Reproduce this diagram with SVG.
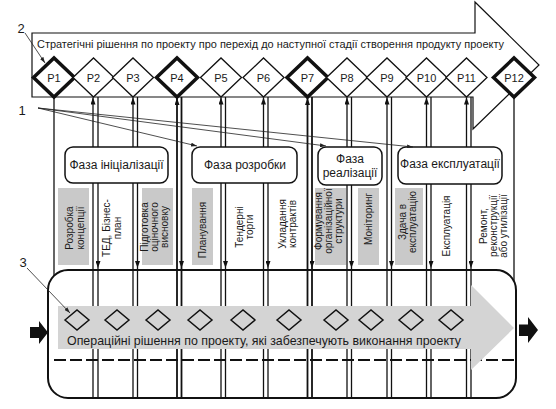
<svg xmlns="http://www.w3.org/2000/svg" width="556" height="409" viewBox="0 0 556 409">
<defs>
<style>
.ln{stroke:#111;stroke-width:1.3;fill:none}
.lnb{stroke:#111;stroke-width:1.8;fill:none}
.ld{stroke:#222;stroke-width:0.8;fill:none}
.dm{fill:#fff;stroke:#111;stroke-width:1.3}
.dmb{fill:#fff;stroke:#111;stroke-width:3.5}
.ph{fill:#fff;stroke:#111;stroke-width:1.5}
.gb{fill:#c9c9c9}
.t{font-family:"Liberation Sans",Arial,sans-serif;fill:#1a1a1a}
.pl{font-family:"Liberation Sans",Arial,sans-serif;font-size:11px;fill:#1a1a1a;text-anchor:middle}
.vt{font-family:"Liberation Sans Narrow","Liberation Sans",Arial,sans-serif;font-size:10px;fill:#1a1a1a;text-anchor:middle}
.sd{fill:none;stroke:#111;stroke-width:1.5}
</style>
<marker id="ah" viewBox="0 0 7 5" refX="7" refY="2.5" markerWidth="7" markerHeight="5" orient="auto" markerUnits="userSpaceOnUse"><path d="M0,0 L7,2.5 L0,5 z" fill="#111"/></marker>
<marker id="al" viewBox="0 0 6 4" refX="6" refY="2" markerWidth="6" markerHeight="4" orient="auto" markerUnits="userSpaceOnUse"><path d="M0,0 L6,2 L0,4 z" fill="#222"/></marker>
</defs>
<rect width="556" height="409" fill="#fff"/>

<g id="strategic-arrow">
<path d="M32,33 H475 V2 L539,65 L473,129 V97 H32 Z" fill="#fff" stroke="#111" stroke-width="1.2"/>
<text class="t" x="37" y="48" font-size="11" textLength="467" lengthAdjust="spacingAndGlyphs">Стратегічні рішення по проекту про перехід до наступної стадії створення продукту проекту</text>
</g>

<g id="operations-frame">
<rect x="48" y="270" width="468" height="128" rx="20" ry="20" fill="#fff" stroke="#111" stroke-width="2"/>
<path d="M30,327 H39 V321 L48,332.5 L39,344 V338 H30 Z" fill="#111"/>
<path d="M519,324.5 H528 V317 L538,330 L528,343 V336 H519 Z" fill="#111"/>
</g>

<g id="connectors">
<path class="ln" d="M54,97 V276"/>
<path class="ln" d="M514,97 V281"/>
<path class="ln" d="M93,397 V97.5" marker-end="url(#ah)"/><path class="ln" d="M98,97 V268" marker-end="url(#ah)"/><path class="ln" d="M98,268 V397"/>
<path class="ln" d="M133,397 V97.5" marker-end="url(#ah)"/><path class="ln" d="M137.5,97 V268" marker-end="url(#ah)"/><path class="ln" d="M137.5,268 V397"/>
<path class="lnb" d="M177,397 V98" marker-end="url(#ah)"/><path class="lnb" d="M181.5,97 V268" marker-end="url(#ah)"/><path class="lnb" d="M181.5,268 V397"/>
<path class="ln" d="M221,397 V97.5" marker-end="url(#ah)"/><path class="ln" d="M225.5,97 V268" marker-end="url(#ah)"/><path class="ln" d="M225.5,268 V397"/>
<path class="ln" d="M263.5,397 V97.5" marker-end="url(#ah)"/><path class="ln" d="M268,97 V268" marker-end="url(#ah)"/><path class="ln" d="M268,268 V397"/>
<path class="lnb" d="M307.5,397 V98" marker-end="url(#ah)"/><path class="lnb" d="M312,97 V268" marker-end="url(#ah)"/><path class="lnb" d="M312,268 V397"/>
<path class="ln" d="M347,397 V97.5" marker-end="url(#ah)"/><path class="ln" d="M351.5,97 V268" marker-end="url(#ah)"/><path class="ln" d="M351.5,268 V397"/>
<path class="ln" d="M387,397 V97.5" marker-end="url(#ah)"/><path class="ln" d="M391.5,97 V268" marker-end="url(#ah)"/><path class="ln" d="M391.5,268 V397"/>
<path class="ln" d="M426.5,397 V97.5" marker-end="url(#ah)"/><path class="ln" d="M431,97 V268" marker-end="url(#ah)"/><path class="ln" d="M431,268 V397"/>
<path class="ln" d="M466.5,397 V97.5" marker-end="url(#ah)"/><path class="ln" d="M471,97 V268" marker-end="url(#ah)"/><path class="ln" d="M471,268 V397"/>
<path d="M54,360 H514" stroke="#111" stroke-width="2" stroke-dasharray="12,4" fill="none"/>
</g>

<g id="ops-band">
<path d="M58,306 H471 V285 L514,328 L471,370 V349 H58 Z" fill="#d4d4d4"/>
<g class="sd">
<path d="M65,320 L77,310 L89,320 L77,330 Z"/>
<path d="M105,320 L117,310 L129,320 L117,330 Z"/>
<path d="M146,320 L158,310 L170,320 L158,330 Z"/>
<path d="M188,320 L200,310 L212,320 L200,330 Z"/>
<path d="M231,320 L243,310 L255,320 L243,330 Z"/>
<path d="M277,320 L289,310 L301,320 L289,330 Z"/>
<path d="M324,320 L336,310 L348,320 L336,330 Z"/>
<path d="M359,320 L371,310 L383,320 L371,330 Z"/>
<path d="M399,320 L411,310 L423,320 L411,330 Z"/>
<path d="M439,320 L451,310 L463,320 L451,330 Z"/>
</g>
<text class="t" x="67" y="345" font-size="13" textLength="394" lengthAdjust="spacingAndGlyphs">Операційні рішення по проекту, які забезпечують виконання проекту</text>
</g>

<g id="phase-init">
<rect class="ph" x="65" y="147" width="103" height="36" rx="8"/>
<text class="t" x="116.5" y="169" font-size="12" text-anchor="middle">Фаза ініціалізації</text>
</g>
<g id="phase-dev">
<rect class="ph" x="192" y="147" width="105" height="36" rx="8"/>
<text class="t" x="245" y="169" font-size="12" text-anchor="middle">Фаза розробки</text>
</g>
<g id="phase-impl">
<rect class="ph" x="318" y="147" width="64" height="38" rx="8"/>
<text class="t" x="350" y="163" font-size="12" text-anchor="middle">Фаза</text>
<text class="t" x="350" y="177" font-size="12" text-anchor="middle">реалізації</text>
</g>
<g id="phase-oper">
<rect class="ph" x="398" y="147" width="104" height="37" rx="8"/>
<text class="t" x="450" y="168" font-size="12" text-anchor="middle">Фаза експлуатації</text>
</g>

<g id="task-concept">
<rect class="gb" x="58" y="188" width="31" height="77"/>
<text class="vt" transform="translate(73,228) rotate(-90)"><tspan x="0" y="0">Розробка</tspan><tspan x="0" y="11">концепції</tspan></text>
</g>
<g id="task-ted">
<text class="vt" transform="translate(110,228) rotate(-90)"><tspan x="0" y="0">ТЕД, Бізнес-</tspan><tspan x="0" y="11">план</tspan></text>
</g>
<g id="task-assessment">
<rect class="gb" x="142" y="188" width="31" height="77"/>
<text class="vt" transform="translate(148,227) rotate(-90)"><tspan x="0" y="0">Підготовка</tspan><tspan x="0" y="10">оціночного</tspan><tspan x="0" y="20">висновку</tspan></text>
</g>
<g id="task-planning">
<rect class="gb" x="192" y="188" width="21" height="77"/>
<text class="vt" transform="translate(206,230) rotate(-90)"><tspan x="0" y="0">Планування</tspan></text>
</g>
<g id="task-tender">
<text class="vt" transform="translate(243,227) rotate(-90)"><tspan x="0" y="0">Тендерні</tspan><tspan x="0" y="10">торги</tspan></text>
</g>
<g id="task-contracts">
<text class="vt" transform="translate(286,224) rotate(-90)"><tspan x="0" y="0">Укладання</tspan><tspan x="0" y="10">контрактів</tspan></text>
</g>
<g id="task-structure">
<rect class="gb" x="315" y="188" width="31" height="77"/>
<text class="vt" transform="translate(322,221) rotate(-90)"><tspan x="0" y="0">Формування</tspan><tspan x="0" y="10">організаційної</tspan><tspan x="0" y="20">структури</tspan></text>
</g>
<g id="task-monitoring">
<rect class="gb" x="358" y="188" width="21" height="77"/>
<text class="vt" transform="translate(372,219) rotate(-90)"><tspan x="0" y="0">Моніторинг</tspan></text>
</g>
<g id="task-handover">
<rect class="gb" x="395" y="188" width="28" height="77"/>
<text class="vt" transform="translate(406,222) rotate(-90)"><tspan x="0" y="0">Здача в</tspan><tspan x="0" y="10">експлуатацію</tspan></text>
</g>
<g id="task-operation">
<text class="vt" transform="translate(450,226) rotate(-90)"><tspan x="0" y="0">Експлуатація</tspan></text>
</g>
<g id="task-repair">
<text class="vt" transform="translate(487,226) rotate(-90)"><tspan x="0" y="0">Ремонт,</tspan><tspan x="0" y="10">реконструкції</tspan><tspan x="0" y="20">або утилізації</tspan></text>
</g>

<g id="P1"><path class="dmb" d="M33.5,77.5 L54,58 L74.5,77.5 L54,97 Z"/><text class="pl" x="54" y="82">P1</text></g>
<g id="P2"><path class="dm" d="M73,77.5 L93.5,58 L114,77.5 L93.5,97 Z"/><text class="pl" x="93.5" y="82">P2</text></g>
<g id="P3"><path class="dm" d="M112.5,77.5 L133,58 L153.5,77.5 L133,97 Z"/><text class="pl" x="133" y="82">P3</text></g>
<g id="P4"><path class="dmb" d="M156.5,77.5 L177,58 L197.5,77.5 L177,97 Z"/><text class="pl" x="177" y="82">P4</text></g>
<g id="P5"><path class="dm" d="M200.5,77.5 L221,58 L241.5,77.5 L221,97 Z"/><text class="pl" x="221" y="82">P5</text></g>
<g id="P6"><path class="dm" d="M243,77.5 L263.5,58 L284,77.5 L263.5,97 Z"/><text class="pl" x="263.5" y="82">P6</text></g>
<g id="P7"><path class="dmb" d="M287,77.5 L307.5,58 L328,77.5 L307.5,97 Z"/><text class="pl" x="307.5" y="82">P7</text></g>
<g id="P8"><path class="dm" d="M326.5,77.5 L347,58 L367.5,77.5 L347,97 Z"/><text class="pl" x="347" y="82">P8</text></g>
<g id="P9"><path class="dm" d="M366.5,77.5 L387,58 L407.5,77.5 L387,97 Z"/><text class="pl" x="387" y="82">P9</text></g>
<g id="P10"><path class="dm" d="M406,77.5 L426.5,58 L447,77.5 L426.5,97 Z"/><text class="pl" x="426.5" y="82">P10</text></g>
<g id="P11"><path class="dm" d="M446,77.5 L466.5,58 L487,77.5 L466.5,97 Z"/><text class="pl" x="466.5" y="82">P11</text></g>
<g id="P12"><path class="dmb" d="M493.5,77.5 L514,58 L534.5,77.5 L514,97 Z"/><text class="pl" x="514" y="82">P12</text></g>

<g id="callouts">
<path class="ld" d="M25,33 L45,63" marker-end="url(#al)"/>
<path class="ld" d="M38,108 L197,146" marker-end="url(#al)"/>
<path class="ld" d="M38,108 L326,146" marker-end="url(#al)"/>
<path class="ld" d="M38,108 L413,147" marker-end="url(#al)"/>
<path class="ld" d="M27,268 L70,313" marker-end="url(#al)"/>
<text class="t" x="21" y="33" font-size="13" text-anchor="middle">2</text>
<text class="t" x="22" y="115" font-size="13" text-anchor="middle">1</text>
<text class="t" x="23" y="267" font-size="13" text-anchor="middle">3</text>
</g>
</svg>
